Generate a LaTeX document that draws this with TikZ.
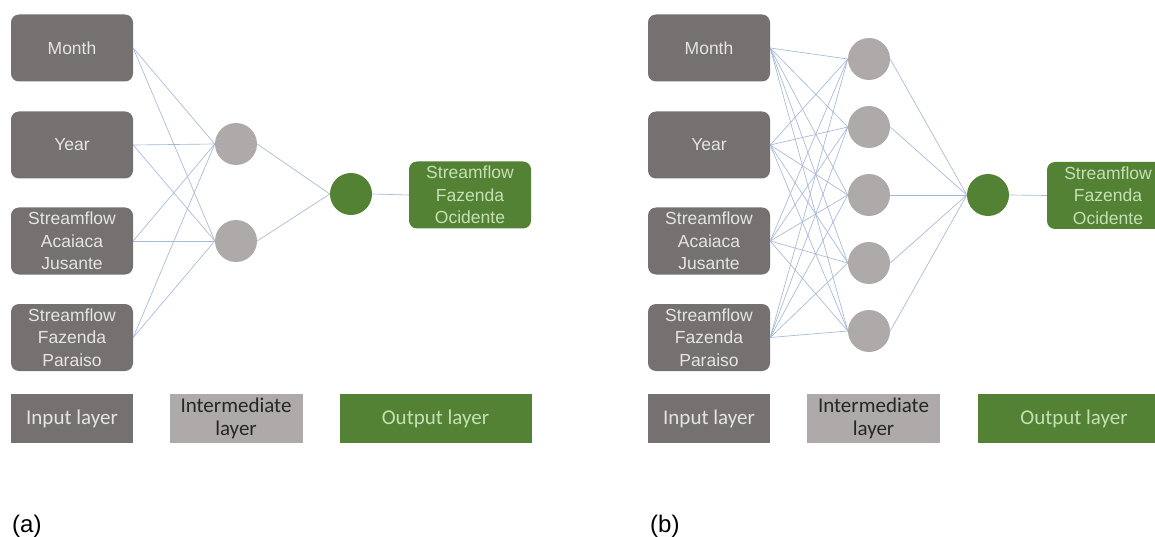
\documentclass[tikz,border=0pt]{standalone}
\usepackage{fontspec}
\newfontfamily\arialf{Liberation Sans}
\newfontfamily\calf{Carlito}
\definecolor{ingray}{RGB}{118,113,113}
\definecolor{hidgray}{RGB}{174,170,170}
\definecolor{outgreen}{RGB}{84,130,53}
\definecolor{lighttext}{RGB}{228,228,228}
\definecolor{greentext}{RGB}{197,224,180}
\definecolor{conncol}{RGB}{165,185,215}
\tikzset{
  inbox/.style={rectangle, rounded corners=8pt, fill=ingray, minimum width=122pt, minimum height=67pt,
    text=lighttext, align=center, inner sep=0pt, font=\arialf\fontsize{17.5}{22.5}\selectfont},
  outbox/.style={inbox, fill=outgreen, text=greentext},
  hid/.style={circle, fill=hidgray, minimum size=42pt, inner sep=0pt},
  outc/.style={circle, fill=outgreen, minimum size=42pt, inner sep=0pt},
  legbox/.style={rectangle, minimum height=49pt, inner sep=0pt, align=center,
    font=\calf\fontsize{21}{23}\selectfont},
  leg in/.style={legbox, fill=ingray, text=lighttext},
  leg mid/.style={legbox, fill=hidgray, text=black!85},
  leg out/.style={legbox, fill=outgreen, text=greentext},
  conn/.style={draw=conncol, line width=0.65pt},
  panellabel/.style={anchor=base west, inner sep=0pt, font=\arialf\fontsize{24}{26}\selectfont}
}
\begin{document}
\begin{tikzpicture}[x=1pt,y=-1pt]
\clip (0,0) rectangle (1155,537);
\fill[white] (0,0) rectangle (1155,537);

% ---------- Panel (a) ----------
\node[inbox] (a1) at (72,48) {Month};
\node[inbox] (a2) at (72,145) {Year};
\node[inbox] (a3) at (72,241) {Streamflow\\Acaiaca\\Jusante};
\node[inbox] (a4) at (72,337.5) {Streamflow\\Fazenda\\Paraiso};
\node[hid] (ah1) at (236,144) {};
\node[hid] (ah2) at (236,241) {};
\node[outc] (ao) at (351,194) {};
\node[outbox] (aob) at (470,195) {Streamflow\\Fazenda\\Ocidente};
\foreach \i in {1,2,3,4}{
  \foreach \j in {1,2}{
    \draw[conn] (a\i.east) -- (ah\j.west);
  }
}
\foreach \j in {1,2}{ \draw[conn] (ah\j.east) -- (ao.west); }
\draw[conn] (ao.east) -- (aob.west);
\node[leg in, minimum width=122pt] (ali) at (72,418.5) {Input layer};
\node[leg mid, minimum width=133pt] (alm) at (236,418.5) {Intermediate\\layer};
\node[leg out, minimum width=192pt] (alo) at (435.5,418.5) {Output layer};
\node[panellabel] (la) at (12,532) {(a)};

% ---------- Panel (b) ----------
\node[inbox] (b1) at (709,48) {Month};
\node[inbox] (b2) at (709,145) {Year};
\node[inbox] (b3) at (709,241) {Streamflow\\Acaiaca\\Jusante};
\node[inbox] (b4) at (709,337.5) {Streamflow\\Fazenda\\Paraiso};
\node[hid] (bh1) at (869,59) {};
\node[hid] (bh2) at (869,127) {};
\node[hid] (bh3) at (869,195) {};
\node[hid] (bh4) at (869,263) {};
\node[hid] (bh5) at (869,331) {};
\node[outc] (bo) at (988,195) {};
\node[outbox] (bob) at (1108,195.5) {Streamflow\\Fazenda\\Ocidente};
\foreach \i in {1,2,3,4}{
  \foreach \j in {1,2,3,4,5}{
    \draw[conn] (b\i.east) -- (bh\j.west);
  }
}
\foreach \j in {1,2,3,4,5}{ \draw[conn] (bh\j.east) -- (bo.west); }
\draw[conn] (bo.east) -- (bob.west);
\node[leg in, minimum width=122pt] (bli) at (709,418.5) {Input layer};
\node[leg mid, minimum width=133pt] (blm) at (873.5,418.5) {Intermediate\\layer};
\node[leg out, minimum width=192pt] (blo) at (1074,418.5) {Output layer};
\node[panellabel] (lb) at (650,532) {(b)};
\end{tikzpicture}
\end{document}
